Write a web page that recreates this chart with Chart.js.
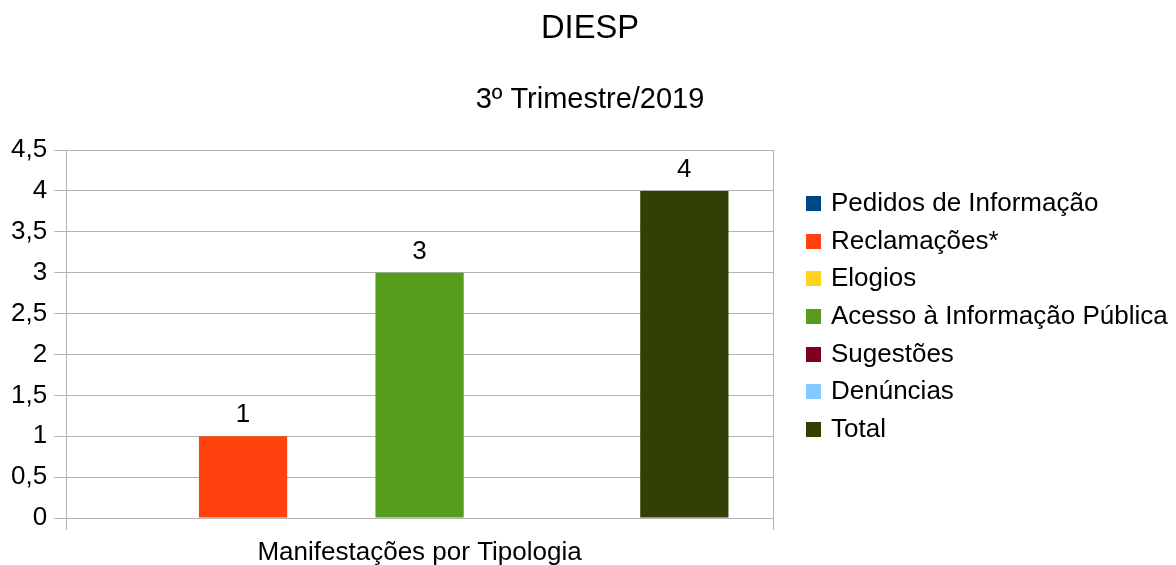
<!DOCTYPE html>
<html>
<head>
<meta charset="utf-8">
<script src="https://cdn.jsdelivr.net/npm/chart.js@4"></script>
<style>
  html, body { margin: 0; padding: 0; background: #fff; }
  #wrap { width: 1176px; height: 565px; position: relative; }
  #legend {
    position: absolute; left: 806px; top: 184px;
    font-family: 'Liberation Sans', Arial, sans-serif; font-size: 26px; color: #000;
  }
  #legend div { height: 37.67px; line-height: 37.67px; white-space: nowrap; }
  #legend span {
    display: inline-block; width: 15px; height: 15px; margin-right: 10px; vertical-align: 0px;
  }
</style>
</head>
<body>
<div id="wrap"><canvas id="chart"></canvas><div id="legend"></div></div>
<script>
const categories = ["Manifestações por Tipologia"];
const seriesNames = [
  "Pedidos de Informação",
  "Reclamações*",
  "Elogios",
  "Acesso à Informação Pública",
  "Sugestões",
  "Denúncias",
  "Total",
];
const seriesValues = [0, 1, 0, 3, 0, 0, 4];
const seriesColors = ["#004586", "#ff420e", "#ffd320", "#579d1c", "#7e0021", "#83caff", "#314004"];
const yTicks = [0, 0.5, 1, 1.5, 2, 2.5, 3, 3.5, 4, 4.5];

const FONT = "'Liberation Sans', Arial, sans-serif";

// rótulos de valor acima das barras
const valueLabels = {
  id: "valueLabels",
  afterDatasetsDraw(chart) {
    const ctx = chart.ctx;
    ctx.save();
    ctx.font = "26px " + FONT;
    ctx.fillStyle = "#000";
    ctx.textAlign = "center";
    ctx.textBaseline = "alphabetic";
    chart.data.datasets.forEach((ds, i) => {
      const meta = chart.getDatasetMeta(i);
      meta.data.forEach((bar, j) => {
        const v = ds.data[j];
        if (!v) return;
        ctx.fillText(String(v), bar.x, bar.y - 14);
      });
    });
    ctx.restore();
  },
};

const datasets = seriesNames.map((name, i) => ({
  label: name,
  data: [seriesValues[i]],
  backgroundColor: seriesColors[i],
  borderWidth: 0,
  categoryPercentage: 0.874,
  barPercentage: 1,
}));

// legenda em HTML
document.getElementById("legend").innerHTML = seriesNames
  .map((n, i) => `<div><span style="background:${seriesColors[i]}"></span>${n}</div>`)
  .join("");

new Chart(document.getElementById("chart"), {
  type: "bar",
  data: { labels: categories, datasets },
  plugins: [valueLabels],
  options: {
    responsive: true,
    maintainAspectRatio: false,
    animation: false,
    layout: { padding: { left: 4, right: 0, top: 0, bottom: 0 } },
    plugins: {
      title: {
        display: true,
        text: "DIESP",
        color: "#000",
        font: { family: FONT, size: 32.7, weight: "normal" },
        padding: { top: 9.4, bottom: 34 },
      },
      subtitle: {
        display: true,
        text: "3º Trimestre/2019",
        color: "#000",
        font: { family: FONT, size: 29, weight: "normal" },
        padding: { top: 0, bottom: 32.6 },
      },
      legend: { display: false },
      tooltip: { enabled: false },
    },
    scales: {
      x: {
        offset: true,
        grid: {
          color: "#b3b3b3",
          offset: true,
          drawTicks: true,
          tickLength: 12,
        },
        border: { color: "#b3b3b3" },
        ticks: {
          color: "#000",
          font: { family: FONT, size: 26, lineHeight: 1 },
          padding: 10,
        },
        afterFit(axis) {
          axis.height = 47;
        },
      },
      y: {
        min: 0,
        max: 4.5,
        afterBuildTicks(axis) {
          axis.ticks = yTicks.map((v) => ({ value: v }));
        },
        grid: { color: "#b3b3b3", tickLength: 12 },
        border: { color: "#b3b3b3" },
        ticks: {
          color: "#000",
          font: { family: FONT, size: 26 },
          padding: 7,
          callback: (v) => String(v).replace(".", ","),
        },
      },
      // espaço reservado para a legenda à direita
      spacer: {
        type: "linear",
        position: "right",
        display: true,
        grid: { display: false },
        border: { display: false },
        ticks: { display: false },
        afterFit(axis) {
          axis.width = 403;
        },
      },
    },
  },
});
</script>
</body>
</html>
